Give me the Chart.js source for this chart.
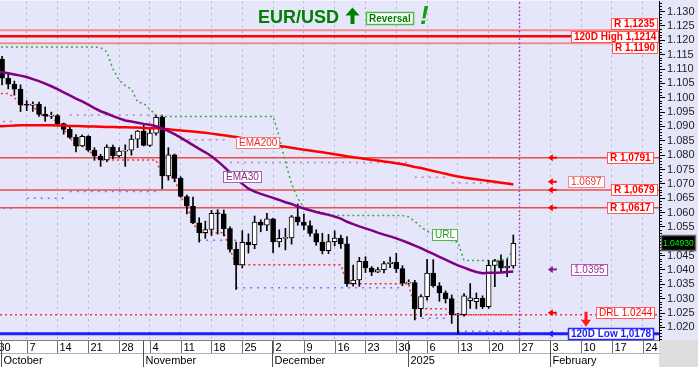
<!DOCTYPE html>
<html><head><meta charset="utf-8">
<script src="https://cdn.jsdelivr.net/npm/chart.js@4.4.1/dist/chart.umd.min.js"></script>
<style>html,body{margin:0;padding:0;background:#e6e6fa;overflow:hidden}canvas{display:block}</style>
</head><body>
<canvas id="c" width="698" height="367"></canvas>
<script>
// ---------- DATA ----------
const dates = ['2024-09-30','2024-10-01','2024-10-02','2024-10-03','2024-10-04','2024-10-07','2024-10-08','2024-10-09','2024-10-10','2024-10-11',
'2024-10-14','2024-10-15','2024-10-16','2024-10-17','2024-10-18','2024-10-21','2024-10-22','2024-10-23','2024-10-24','2024-10-25',
'2024-10-28','2024-10-29','2024-10-30','2024-10-31','2024-11-01','2024-11-04','2024-11-05','2024-11-06','2024-11-07','2024-11-08',
'2024-11-11','2024-11-12','2024-11-13','2024-11-14','2024-11-15','2024-11-18','2024-11-19','2024-11-20','2024-11-21','2024-11-22',
'2024-11-25','2024-11-26','2024-11-27','2024-11-28','2024-11-29','2024-12-02','2024-12-03','2024-12-04','2024-12-05','2024-12-06',
'2024-12-09','2024-12-10','2024-12-11','2024-12-12','2024-12-13','2024-12-16','2024-12-17','2024-12-18','2024-12-19','2024-12-20',
'2024-12-23','2024-12-24','2024-12-25','2024-12-26','2024-12-27','2024-12-30','2024-12-31','2025-01-01','2025-01-02','2025-01-03',
'2025-01-06','2025-01-07','2025-01-08','2025-01-09','2025-01-10','2025-01-13','2025-01-14','2025-01-15','2025-01-16','2025-01-17',
'2025-01-20','2025-01-21','2025-01-22','2025-01-23','2025-01-24'];

const open = [1.1165,1.1135,1.1068,1.1047,1.1030,1.0975,1.0974,1.0978,1.0942,1.0936,
1.0938,1.0910,1.0890,1.0862,1.0832,1.0866,1.0817,1.0797,1.0783,1.0828,
1.0797,1.0814,1.0817,1.0856,1.0884,1.0834,1.0877,1.0932,1.0728,1.0801,
1.0719,1.0656,1.0622,1.0564,1.0530,1.0541,1.0597,1.0596,1.0544,1.0472,
1.0418,1.0496,1.0488,1.0567,1.0556,1.0578,1.0498,1.0510,1.0512,1.0585,
1.0567,1.0555,1.0527,1.0497,1.0467,1.0499,1.0511,1.0491,1.0352,1.0365,
1.0430,1.0407,1.0392,1.0401,1.0422,1.0427,1.0405,1.0354,1.0356,1.0265,
1.0307,1.0389,1.0345,1.0320,1.0300,1.0244,1.0244,1.0293,1.0290,1.0301,
1.0272,1.0416,1.0432,1.0407,1.0414];
const high = [1.1209,1.1144,1.1083,1.1058,1.1045,1.0990,1.0986,1.0985,1.0968,1.0950,
1.0942,1.0912,1.0903,1.0872,1.0871,1.0868,1.0826,1.0803,1.0836,1.0835,
1.0826,1.0836,1.0870,1.0886,1.0905,1.0893,1.0937,1.0937,1.0826,1.0804,
1.0725,1.0661,1.0654,1.0582,1.0570,1.0608,1.0610,1.0609,1.0550,1.0497,
1.0537,1.0526,1.0588,1.0575,1.0597,1.0580,1.0540,1.0545,1.0590,1.0630,
1.0595,1.0571,1.0540,1.0528,1.0524,1.0536,1.0522,1.0516,1.0417,1.0444,
1.0446,1.0412,1.0409,1.0430,1.0445,1.0458,1.0415,1.0366,1.0364,1.0314,
1.0437,1.0436,1.0356,1.0327,1.0313,1.0249,1.0318,1.0353,1.0320,1.0310,
1.0433,1.0437,1.0453,1.0438,1.0522];
const low = [1.1127,1.1045,1.1031,1.1009,1.0952,1.0955,1.0952,1.0935,1.0918,1.0927,
1.0905,1.0873,1.0858,1.0811,1.0830,1.0813,1.0782,1.0761,1.0777,1.0788,
1.0793,1.0761,1.0800,1.0826,1.0832,1.0830,1.0870,1.0683,1.0713,1.0707,
1.0653,1.0595,1.0561,1.0497,1.0510,1.0520,1.0525,1.0519,1.0462,1.0332,
1.0407,1.0459,1.0474,1.0533,1.0537,1.0460,1.0480,1.0470,1.0490,1.0556,
1.0540,1.0518,1.0486,1.0456,1.0457,1.0484,1.0475,1.0343,1.0344,1.0343,
1.0391,1.0380,1.0391,1.0390,1.0408,1.0391,1.0345,1.0350,1.0226,1.0237,
1.0295,1.0340,1.0291,1.0285,1.0214,1.0178,1.0239,1.0266,1.0265,1.0266,
1.0266,1.0342,1.0392,1.0377,1.0406];
const close = [1.1135,1.1068,1.1047,1.1030,1.0975,1.0974,1.0978,1.0942,1.0936,1.0938,
1.0910,1.0890,1.0862,1.0832,1.0866,1.0817,1.0797,1.0783,1.0828,1.0797,
1.0814,1.0817,1.0856,1.0884,1.0834,1.0877,1.0932,1.0728,1.0801,1.0719,
1.0656,1.0622,1.0564,1.0530,1.0541,1.0597,1.0596,1.0544,1.0472,1.0418,
1.0496,1.0488,1.0567,1.0556,1.0578,1.0498,1.0510,1.0512,1.0585,1.0567,
1.0555,1.0527,1.0497,1.0467,1.0499,1.0511,1.0491,1.0352,1.0365,1.0430,
1.0407,1.0392,1.0401,1.0422,1.0427,1.0405,1.0354,1.0356,1.0265,1.0307,
1.0389,1.0345,1.0320,1.0300,1.0244,1.0244,1.0310,1.0303,1.0301,1.0272,
1.0416,1.0432,1.0407,1.0414,1.0493];

const ema30 = [1.1092,1.1089,1.1085,1.1081,1.1077,1.1072,1.1065,1.1058,1.1049,1.1040,
1.1030,1.1019,1.1008,1.0997,1.0987,1.0976,1.0964,1.0953,1.0945,1.0936,
1.0928,1.0921,1.0917,1.0913,1.0909,1.0906,1.0901,1.0893,1.0884,1.0873,
1.0861,1.0848,1.0835,1.0822,1.0810,1.0796,1.0779,1.0760,1.0740,1.0718,
1.0700,1.0683,1.0673,1.0665,1.0658,1.0651,1.0644,1.0636,1.0630,1.0621,
1.0614,1.0608,1.0602,1.0597,1.0592,1.0586,1.0579,1.0568,1.0560,1.0552,
1.0545,1.0538,1.0530,1.0523,1.0517,1.0510,1.0502,1.0494,1.0485,1.0476,
1.0466,1.0456,1.0446,1.0436,1.0426,1.0416,1.0408,1.0400,1.0393,1.0389,
1.0390,1.0390,1.0391,1.0393,1.0395];
const ema200 = [1.0900,1.0901,1.0902,1.0903,1.0904,1.0904,1.0904,1.0904,1.0904,1.0904,
1.0903,1.0903,1.0902,1.0902,1.0901,1.0900,1.0900,1.0899,1.0898,1.0898,
1.0897,1.0897,1.0896,1.0896,1.0895,1.0894,1.0894,1.0892,1.0890,1.0888,
1.0886,1.0884,1.0882,1.0880,1.0878,1.0875,1.0872,1.0869,1.0866,1.0863,
1.0859,1.0855,1.0851,1.0846,1.0841,1.0836,1.0832,1.0829,1.0826,1.0822,
1.0819,1.0816,1.0813,1.0810,1.0807,1.0803,1.0800,1.0796,1.0793,1.0790,
1.0787,1.0784,1.0781,1.0778,1.0775,1.0772,1.0768,1.0764,1.0759,1.0755,
1.0750,1.0745,1.0740,1.0735,1.0730,1.0726,1.0722,1.0719,1.0716,1.0713,
1.0710,1.0707,1.0704,1.0701,1.0698];
const urlLine = [1.1177,1.1177,1.1177,1.1177,1.1177,1.1177,1.1177,1.1177,1.1177,1.1177,
1.1177,1.1177,1.1177,1.1177,1.1177,1.1177,1.1177,1.1175,1.1160,1.1100,
1.1062,1.1042,1.1030,1.0985,1.0980,1.0960,1.0940,1.0935,1.0935,1.0935,
1.0935,1.0935,1.0935,1.0935,1.0935,1.0935,1.0935,1.0935,1.0935,1.0935,
1.0935,1.0935,1.0935,1.0935,1.0935,1.0935,1.0865,1.0775,1.0700,1.0650,
1.0615,1.0607,1.0605,1.0600,1.0595,1.0590,1.0590,1.0590,1.0590,1.0590,
1.0590,1.0590,1.0590,1.0590,1.0590,1.0590,1.0590,1.0585,1.0570,1.0550,
1.0535,1.0525,1.0515,1.0508,1.0502,1.0497,1.0433,1.0433,1.0433,1.0433,
1.0433,1.0433,1.0433,1.0440,1.0470];
const drlLine = [1.1015,1.1015,1.1015,1.1000,1.0975,1.0974,1.0974,1.0942,1.0936,1.0936,
1.0910,1.0890,1.0862,1.0832,1.0832,1.0817,1.0797,1.0783,1.0783,1.0783,
1.0783,1.0783,1.0783,1.0783,1.0783,1.0783,1.0783,1.0728,1.0728,1.0719,
1.0656,1.0622,1.0564,1.0530,1.0530,1.0530,1.0530,1.0530,1.0472,1.0418,
1.0418,1.0418,1.0418,1.0418,1.0418,1.0418,1.0418,1.0418,1.0418,1.0418,
1.0418,1.0418,1.0418,1.0418,1.0418,1.0418,1.0418,1.0352,1.0352,1.0352,
1.0352,1.0352,1.0352,1.0352,1.0352,1.0352,1.0352,1.0352,1.0265,1.0265,
1.0265,1.0265,1.0265,1.0265,1.0244,1.0244,1.0244,1.0244,1.0244,1.0244,
1.0244,1.0244,1.0244,1.0244,1.0244];
// dotted support / resistance segments: [fromDay, toDay, level]
const lowSegments  = [[0,3,1.0615],[5,11,1.0650],[12,26,1.0673],[33,41,1.0504],[39,66,1.0338],[68,73,1.0232],[75,84,1.0187]];
const highSegments = [[0,3,1.0917],[12,28,1.0940],[30,38,1.0854],[38,67,1.0774],[68,73,1.0723],[74,84,1.0703]];

const levelNames  = ['R 1,1235','120D High 1,1214','R 1,1190','R 1,0791','R 1,0679','R 1,0617','DRL 1.0244','120D Low 1,0178'];
const levelValues = [1.1235,1.1214,1.1190,1.0791,1.0679,1.0617,1.0244,1.0178];
const ema200Last = 1.0697, ema30Last = 1.0395, lastPrice = 1.04930;
const todayIndex = 85;

const weekLabels  = ['30','7','14','21','28','4','11','18','25','2','9','16','23','30','6','13','20','27','3','10','17','24'];
const monthLabels = ['October','November','December','2025','February'];
const monthStartDay = [1,24,45,67,90];

// ---------- SCALE RANGE ----------
const xMin = 0.666, xMax = 107.65, yMin = 1.01561, yMax = 1.13370;
const FF = '"Liberation Sans", Arial, sans-serif';
Chart.defaults.font.family = FF;

const pts = arr => arr.map((v,i)=>({x:i,y:v}));
const hline = v => [{x:xMin,y:v},{x:xMax,y:v}];

const datasets = [];
datasets.push({type:'line', label:'EMA30', data:pts(ema30), borderColor:'#800080', borderWidth:2.5, pointRadius:0, order:1});
datasets.push({type:'line', label:'EMA200', data:pts(ema200), borderColor:'#ff0000', borderWidth:2.5, pointRadius:0, order:1});
datasets.push({type:'bar', label:'body', data:dates.map((d,i)=>({x:i,y:[open[i],close[i]]})),
  backgroundColor:dates.map((d,i)=> close[i]>=open[i] ? '#ffffff' : '#000000'),
  borderColor:'#000', borderWidth:1, borderSkipped:false, barThickness:5, minBarLength:1, grouped:false, order:4});
datasets.push({type:'bar', label:'wick', data:dates.map((d,i)=>({x:i,y:[low[i],high[i]]})),
  backgroundColor:'#000', borderWidth:0, barThickness:1, grouped:false, order:5});
datasets.push({type:'line', label:'URL', data:pts(urlLine), borderColor:'#3aa83a', borderWidth:1.5, borderDash:[2,3], pointRadius:0, order:6});
datasets.push({type:'line', label:'DRL', data:pts(drlLine), borderColor:'#ff2a2a', borderWidth:1.5, borderDash:[2,3], pointRadius:0, order:6});
lowSegments.forEach(s=>datasets.push({type:'line', data:[{x:s[0],y:s[2]},{x:s[1],y:s[2]}], borderColor:'#7474ff', borderWidth:1.5, borderDash:[2,5], pointRadius:0, order:7}));
highSegments.forEach(s=>datasets.push({type:'line', data:[{x:s[0],y:s[2]},{x:s[1],y:s[2]}], borderColor:'#c57ac8', borderWidth:1.5, borderDash:[2,5], pointRadius:0, order:7}));
const levelStyle = [
 {c:'#f58a8e',w:2},{c:'#ff0000',w:2.5},{c:'#f58a8e',w:2},
 {c:'#f04a4a',w:1.5},{c:'#f04a4a',w:1.5},{c:'#f04a4a',w:1.5},
 {c:'#ff3030',w:1.5,d:[2,3]},{c:'#1c1cff',w:3}];
levelValues.forEach((v,k)=>datasets.push({type:'line', data:hline(v), borderColor:levelStyle[k].c, borderWidth:levelStyle[k].w, borderDash:levelStyle[k].d||[], pointRadius:0, order:8}));
datasets.push({type:'line', data:[{x:todayIndex,y:yMin},{x:todayIndex,y:yMax}], borderColor:'#9c3cb0', borderWidth:1.5, borderDash:[1.5,2.5], pointRadius:0, order:3});

// ---------- DRAW HELPERS ----------
function boxLabel(ctx, text, right, yc, o){
  ctx.font = (o.bold?'bold ':'') + (o.size||10) + 'px ' + FF;
  const w = Math.round(ctx.measureText(text).width) + 5, h = 11;
  const l = Math.round(right - w) + 0.5, t = Math.round(yc - h/2) + 0.5;
  ctx.fillStyle = '#fff'; ctx.fillRect(l, t, w, h);
  ctx.strokeStyle = o.border; ctx.lineWidth = o.bw || 1; ctx.strokeRect(l, t, w, h);
  ctx.fillStyle = o.color; ctx.textAlign = 'left'; ctx.textBaseline = 'middle';
  ctx.fillText(text, l + 2.5, t + h/2 + 0.5);
}
function leftArrow(ctx, tipX, y, color){
  ctx.fillStyle = color;
  ctx.beginPath(); ctx.moveTo(tipX, y); ctx.lineTo(tipX+5, y-3.5); ctx.lineTo(tipX+5, y+3.5); ctx.closePath(); ctx.fill();
  ctx.fillRect(tipX+4, y-1, 5, 2);
}

const overlay = {
  id:'overlay',
  beforeDraw(chart){
    const c = chart.ctx, ca = chart.chartArea;
    c.save();
    c.fillStyle = '#e6e6fa'; c.fillRect(0,0,chart.width,chart.height);
    c.fillStyle = '#f4f4fb'; c.fillRect(0,0,ca.right,1);
    c.fillStyle = '#ffffff'; c.fillRect(0,ca.bottom,ca.right,chart.height-ca.bottom);
    c.fillStyle = '#dedede'; c.fillRect(ca.right,ca.bottom,chart.width-ca.right,chart.height-ca.bottom);
    c.restore();
  },
  afterDraw(chart){
    const c = chart.ctx, ca = chart.chartArea, xs = chart.scales.x, ys = chart.scales.y;
    c.save();
    // ---- y minor ticks + cut top label
    c.strokeStyle = '#000'; c.lineWidth = 1;
    for (let k = Math.ceil(yMin*1000); k <= Math.floor(yMax*1000); k++){
      if (k % 5 === 0) continue;
      const py = Math.round(ys.getPixelForValue(k/1000)) + 0.5;
      c.beginPath(); c.moveTo(ca.right, py); c.lineTo(ca.right+3, py); c.stroke();
    }
    const pyTop = ys.getPixelForValue(1.135);
    c.fillStyle = '#222'; c.font = '11px ' + FF; c.textAlign='left'; c.textBaseline='middle';
    c.fillText('1.135', ca.right+8, pyTop);

    // ---- x axis (date rows)
    c.strokeStyle = '#808080'; c.lineWidth = 1;
    c.beginPath(); c.moveTo(0, ca.bottom+0.5); c.lineTo(ca.right, ca.bottom+0.5); c.stroke();
    c.strokeStyle = '#b0b0b0';
    c.beginPath(); c.moveTo(0, ca.bottom+13.5); c.lineTo(ca.right, ca.bottom+13.5); c.stroke();
    c.font = '11px ' + FF; c.fillStyle = '#000'; c.textBaseline = 'middle'; c.textAlign='left';
    weekLabels.forEach((t,k)=>{
      const px = Math.round(xs.getPixelForValue(k*5)) + 0.5;
      c.strokeStyle = '#707070';
      c.beginPath(); c.moveTo(px, ca.bottom+1); c.lineTo(px, ca.bottom+13); c.stroke();
      c.fillText(t, px+2, ca.bottom+7.5);
    });
    monthLabels.forEach((t,k)=>{
      const px = Math.round(xs.getPixelForValue(monthStartDay[k]-0.1)) + 0.5;
      c.strokeStyle = '#505050';
      c.beginPath(); c.moveTo(px, ca.bottom+1); c.lineTo(px, chart.height); c.stroke();
      c.fillText(t, px+2, ca.bottom+20.5);
    });

    // ---- level labels and arrows
    const R = ca.right;
    const tip = xs.getPixelForValue(89.6);
    const red = '#ff0000', redB = '#ff5a5a';
    const yv = v => ys.getPixelForValue(v);
    boxLabel(c, levelNames[0], R-2, yv(levelValues[0])-6.5, {bold:true, color:red, border:redB});
    boxLabel(c, levelNames[1], R-1, yv(levelValues[1]), {bold:true, color:red, border:redB});
    boxLabel(c, levelNames[2], R-2, yv(levelValues[2])+4.5, {bold:true, color:red, border:redB});
    [3,4,5].forEach(k=>{
      leftArrow(c, tip, yv(levelValues[k]), red);
      boxLabel(c, levelNames[k], R-(k===4?2:6), yv(levelValues[k]), {bold:true, color:red, border:redB});
    });
    leftArrow(c, tip, yv(ema200Last)-3, red);
    boxLabel(c, ema200Last.toFixed(4), R-55, yv(ema200Last)-3, {color:'#e83a3a', border:'#f08a8a'});
    leftArrow(c, tip, yv(ema30Last)-2, '#8a1a8a');
    boxLabel(c, ema30Last.toFixed(4), R-52, yv(ema30Last)-2, {color:'#9a2a9a', border:'#b060b0'});
    leftArrow(c, tip, yv(levelValues[6])-2, red);
    boxLabel(c, levelNames[6], R-5, yv(levelValues[6])-2, {color:red, border:redB});
    leftArrow(c, tip, yv(levelValues[7]), '#1c1cff');
    boxLabel(c, levelNames[7], R-6, yv(levelValues[7]), {bold:true, color:'#1c1cff', border:'#2a2aff', bw:1.5});
    // big red down arrow
    const dx = xs.getPixelForValue(95.8), dy = yv(levelValues[6]);
    c.fillStyle = '#ff1a1a';
    c.fillRect(dx-1.5, dy-3, 3, 9);
    c.beginPath(); c.moveTo(dx-5, dy+5); c.lineTo(dx+5, dy+5); c.lineTo(dx, dy+12); c.closePath(); c.fill();
    // last price tag
    const py = yv(lastPrice);
    c.fillStyle = '#000'; c.fillRect(R+2, Math.round(py-8), 35, 16);
    c.strokeStyle = '#666'; c.strokeRect(R+2.5, Math.round(py-8)+0.5, 34, 15);
    c.fillStyle = '#00ff00'; c.font = '8.5px ' + FF; c.textBaseline='middle';
    c.fillText(lastPrice.toFixed(5), R+4, py+0.5);

    // ---- in-chart line labels
    const tag = (text, xi, v, col, brd) => {
      c.font = '10px ' + FF;
      const w = c.measureText(text).width + 5;
      boxLabel(c, text, xs.getPixelForValue(xi) + w/2, yv(v), {color:col, border:brd});
    };
    tag('EMA200', 42.4, 1.0844, '#e83030', '#f08080');
    tag('EMA30', 39.9, 1.0727, '#8a2a8a', '#a860a8');
    tag('URL', 72.8, 1.0522, '#2a9a2a', '#4cbb4c');

    // ---- title
    c.fillStyle = '#008000'; c.font = 'bold 18px ' + FF; c.textBaseline='alphabetic'; c.textAlign='left';
    c.fillText('EUR/USD', 258, 23);
    c.beginPath(); c.moveTo(345.5,15.5); c.lineTo(352.5,7.5); c.lineTo(359.5,15.5); c.closePath(); c.fill();
    c.fillRect(350.5, 14, 4, 10);
    c.fillStyle = '#fff'; c.fillRect(366.5,12.5,47,12);
    c.strokeStyle = '#4cbb4c'; c.lineWidth = 1.5; c.strokeRect(366.5,12.5,47,12);
    c.fillStyle = '#008000'; c.font = 'bold 10px ' + FF; c.textBaseline='middle';
    c.fillText('Reversal', 369, 19);
    c.fillStyle = '#12a012'; c.font = 'italic bold 26px ' + FF; c.textBaseline='alphabetic';
    c.fillText('!', 420, 24);
    c.restore();
  }
};

new Chart(document.getElementById('c'), {
  type:'bar',
  data:{datasets},
  options:{
    responsive:false, animation:false, devicePixelRatio:1,
    layout:{padding:{top:1,left:0,right:0,bottom:0}},
    plugins:{legend:{display:false}, tooltip:{enabled:false}, title:{display:false}},
    scales:{
      x:{type:'linear', min:xMin, max:xMax, offset:false,
         afterFit: s => { s.height = 27; s.paddingLeft = 0; s.paddingRight = 0; },
         ticks:{display:false, stepSize:5, includeBounds:false, autoSkip:false},
         grid:{display:true, drawOnChartArea:true, drawTicks:false, color:'#b4b4c6', lineWidth:1, offset:false},
         border:{display:false, dash:[2,4]}},
      y:{type:'linear', position:'right', min:yMin, max:yMax, beginAtZero:false,
         afterFit: s => { s.width = 39; s.paddingTop = 0; s.paddingBottom = 0; },
         ticks:{stepSize:0.005, includeBounds:false, autoSkip:false, color:'#222', font:{size:11, family:FF}, padding:2,
                callback: v => Number(v).toFixed(3)},
         grid:{drawOnChartArea:false, drawTicks:true, tickLength:6, tickColor:'#000'},
         border:{display:true, color:'#000', width:1}}
    }
  },
  plugins:[overlay]
});
</script>
</body></html>
